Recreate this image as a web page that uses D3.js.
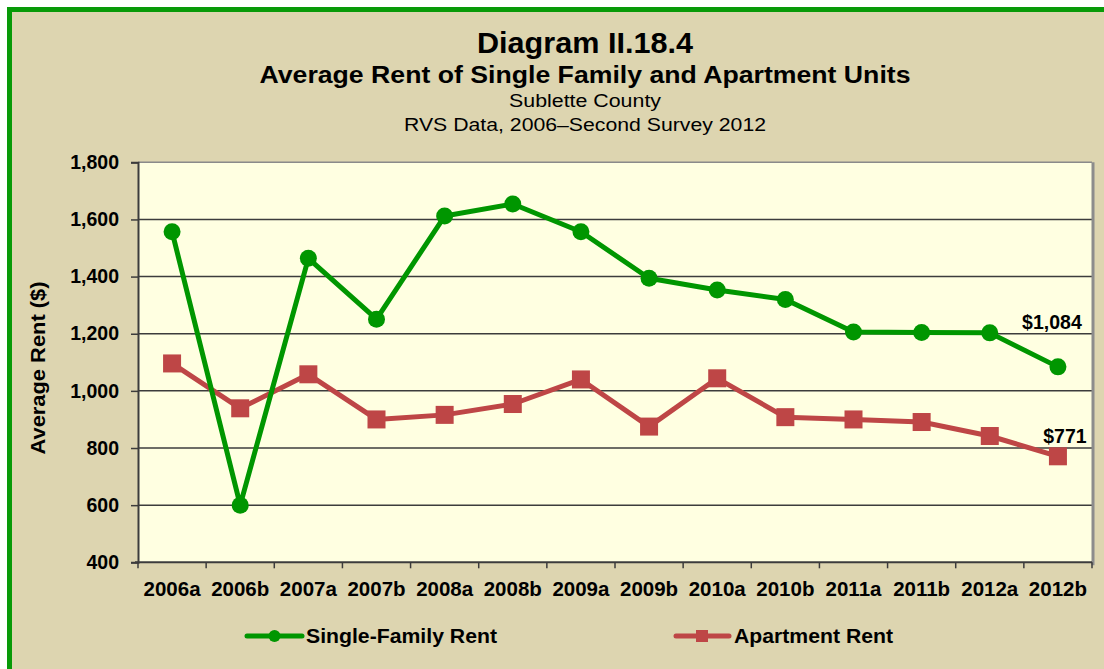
<!DOCTYPE html>
<html>
<head>
<meta charset="utf-8">
<script src="https://cdn.jsdelivr.net/npm/d3@7/dist/d3.min.js"></script>
<style>
  html, body { margin: 0; padding: 0; background: #ffffff; }
  svg { display: block; font-family: "Liberation Sans", Arial, sans-serif; }
</style>
</head>
<body>
<svg id="chart" width="1104" height="669"></svg>
<script>
// Survey periods (two surveys per year)
const periods = ["2006a","2006b","2007a","2007b","2008a","2008b","2009a",
                 "2009b","2010a","2010b","2011a","2011b","2012a","2012b"];

// Average rent, dollars
const singleFamilyRent = [1557, 600, 1464, 1251, 1612, 1654, 1557,
                          1394, 1353, 1320, 1206, 1204, 1203, 1084];
const apartmentRent    = [1096, 939, 1058, 900, 916, 954, 1040,
                          875, 1044, 908, 900, 891, 842, 771];

const yTicks = [400, 600, 800, 1000, 1200, 1400, 1600, 1800];

const titleLines = [
  "Diagram II.18.4",
  "Average Rent of Single Family and Apartment Units",
  "Sublette County",
  "RVS Data, 2006\u2013Second Survey 2012"
];

const seriesNames = ["Single-Family Rent", "Apartment Rent"];

const GREEN = "#009600";
const RED = "#BE4646";

const svg = d3.select("#chart");
const W = 1104, H = 669;

// Frame: white margin, green border on top/left, tan panel
svg.append("rect").attr("x", 0).attr("y", 0).attr("width", W).attr("height", H).attr("fill", "#ffffff");
svg.append("rect").attr("x", 7).attr("y", 7).attr("width", W - 7).attr("height", H - 7).attr("fill", "#089A08");
svg.append("rect").attr("x", 12).attr("y", 12).attr("width", W - 12).attr("height", H - 12).attr("fill", "#DDD5B0");

// Titles
const cx = 585;
const titleSpecs = [
  {size: 29, weight: "bold", y: 53, len: 216},
  {size: 23, weight: "bold", y: 83, len: 651},
  {size: 17.5, weight: "normal", y: 107, len: 152},
  {size: 17.5, weight: "normal", y: 131, len: 362}
];
titleLines.forEach((t, i) => {
  const s = titleSpecs[i];
  svg.append("text")
    .attr("x", cx).attr("y", s.y)
    .attr("text-anchor", "middle")
    .attr("font-size", s.size)
    .attr("font-weight", s.weight)
    .attr("fill", "#000")
    .attr("textLength", s.len)
    .attr("lengthAdjust", "spacingAndGlyphs")
    .text(t);
});

// Plot area
const plot = {left: 138, right: 1092, top: 162.3, bottom: 562.3};

const x = d3.scaleBand().domain(periods).range([plot.left, plot.right]).paddingInner(0).paddingOuter(0);
const y = d3.scaleLinear().domain([400, 1800]).range([plot.bottom, plot.top]);

svg.append("rect")
  .attr("x", plot.left).attr("y", plot.top)
  .attr("width", plot.right - plot.left).attr("height", plot.bottom - plot.top)
  .attr("fill", "#FFFFE1");

// Horizontal gridlines
svg.append("g")
  .selectAll("line")
  .data(yTicks.filter(v => v > 400))
  .join("line")
  .attr("x1", plot.left).attr("x2", plot.right)
  .attr("y1", d => y(d)).attr("y2", d => y(d))
  .attr("stroke", d => d === 1800 ? "#8a8a8a" : "#3c3c3c")
  .attr("stroke-width", 1.5);

// Right edge of plot area
svg.append("line")
  .attr("x1", plot.right + 1).attr("x2", plot.right + 1)
  .attr("y1", plot.top).attr("y2", plot.bottom + 3)
  .attr("stroke", "#8c8c8c").attr("stroke-width", 3);

// Y axis
const yAxis = d3.axisLeft(y).tickValues(yTicks).tickSize(7).tickPadding(12)
  .tickFormat(d3.format(","));
const gy = svg.append("g").attr("transform", `translate(${plot.left},0)`).call(yAxis);
gy.select(".domain").attr("stroke", "#3c3c3c").attr("stroke-width", 2);
gy.selectAll(".tick line").attr("stroke", "#3c3c3c").attr("stroke-width", 1.5);
gy.selectAll(".tick text")
  .attr("font-family", "'Liberation Sans', Arial, sans-serif")
  .attr("font-size", 19.5).attr("font-weight", "bold").attr("fill", "#000");

// X axis: ticks on category boundaries
const boundaries = d3.range(periods.length + 1).map(i => plot.left + i * x.bandwidth());
svg.append("line")
  .attr("x1", plot.left - 3).attr("x2", plot.right)
  .attr("y1", plot.bottom).attr("y2", plot.bottom)
  .attr("stroke", "#3c3c3c").attr("stroke-width", 2);
svg.append("g").selectAll("line")
  .data(boundaries)
  .join("line")
  .attr("x1", d => d).attr("x2", d => d)
  .attr("y1", plot.bottom).attr("y2", plot.bottom + 6)
  .attr("stroke", "#3c3c3c").attr("stroke-width", 1.5);
svg.append("g").selectAll("text")
  .data(periods)
  .join("text")
  .attr("x", d => x(d) + x.bandwidth() / 2)
  .attr("y", 596)
  .attr("text-anchor", "middle")
  .attr("font-size", 20.5).attr("font-weight", "bold").attr("fill", "#000")
  .text(d => d);

// Y axis title
svg.append("text")
  .attr("transform", `translate(45,${368}) rotate(-90)`)
  .attr("text-anchor", "middle")
  .attr("font-size", 19.5).attr("font-weight", "bold").attr("fill", "#000")
  .attr("textLength", 173).attr("lengthAdjust", "spacingAndGlyphs")
  .text("Average Rent ($)");

// Lines and markers
const line = d3.line()
  .x((d, i) => x(periods[i]) + x.bandwidth() / 2)
  .y(d => y(d));

svg.append("path").datum(apartmentRent)
  .attr("d", line).attr("fill", "none")
  .attr("stroke", RED).attr("stroke-width", 5).attr("stroke-linejoin", "round");
svg.append("g").selectAll("rect")
  .data(apartmentRent)
  .join("rect")
  .attr("x", (d, i) => x(periods[i]) + x.bandwidth() / 2 - 9)
  .attr("y", d => y(d) - 9)
  .attr("width", 18).attr("height", 18)
  .attr("fill", RED);

svg.append("path").datum(singleFamilyRent)
  .attr("d", line).attr("fill", "none")
  .attr("stroke", GREEN).attr("stroke-width", 5).attr("stroke-linejoin", "round");
svg.append("g").selectAll("circle")
  .data(singleFamilyRent)
  .join("circle")
  .attr("cx", (d, i) => x(periods[i]) + x.bandwidth() / 2)
  .attr("cy", d => y(d))
  .attr("r", 8.5)
  .attr("fill", GREEN);

// End-value labels
const last = periods.length - 1;
const lastX = x(periods[last]) + x.bandwidth() / 2;
const money = d3.format("$,");
svg.append("text")
  .attr("x", lastX - 6).attr("y", y(singleFamilyRent[last]) - 38)
  .attr("text-anchor", "middle")
  .attr("font-size", 19.5).attr("font-weight", "bold").attr("fill", "#000")
  .text(money(singleFamilyRent[last]));
svg.append("text")
  .attr("x", lastX + 7).attr("y", y(apartmentRent[last]) - 13)
  .attr("text-anchor", "middle")
  .attr("font-size", 19.5).attr("font-weight", "bold").attr("fill", "#000")
  .text(money(apartmentRent[last]));

// Legend
const legendY = 636;
const leg = svg.append("g");
leg.append("line").attr("x1", 247).attr("x2", 302).attr("y1", legendY).attr("y2", legendY)
  .attr("stroke", GREEN).attr("stroke-width", 5).attr("stroke-linecap", "round");
leg.append("circle").attr("cx", 274.5).attr("cy", legendY).attr("r", 6).attr("fill", GREEN);
leg.append("text").attr("x", 306).attr("y", legendY + 7)
  .attr("font-size", 20).attr("font-weight", "bold").attr("fill", "#000")
  .attr("textLength", 191).attr("lengthAdjust", "spacingAndGlyphs")
  .text(seriesNames[0]);

leg.append("line").attr("x1", 676).attr("x2", 729).attr("y1", legendY).attr("y2", legendY)
  .attr("stroke", RED).attr("stroke-width", 5).attr("stroke-linecap", "round");
leg.append("rect").attr("x", 696).attr("y", legendY - 6).attr("width", 12).attr("height", 12).attr("fill", RED);
leg.append("text").attr("x", 734).attr("y", legendY + 7)
  .attr("font-size", 20).attr("font-weight", "bold").attr("fill", "#000")
  .attr("textLength", 159).attr("lengthAdjust", "spacingAndGlyphs")
  .text(seriesNames[1]);
</script>
</body>
</html>
